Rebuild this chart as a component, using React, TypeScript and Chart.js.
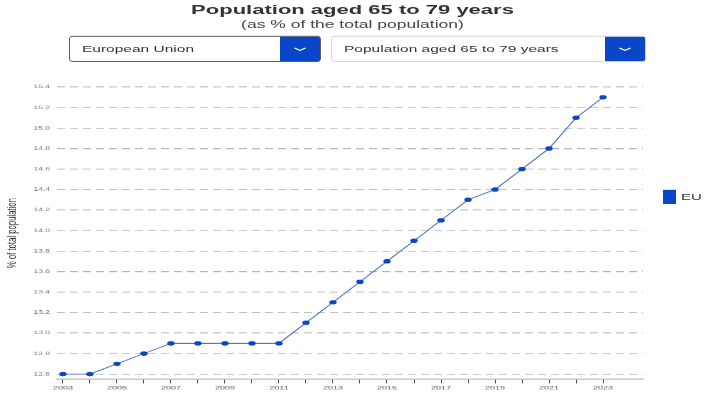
import React, { useEffect, useRef } from "react";
import { Chart, registerables } from "chart.js";

Chart.register(...registerables);

const years = [2003, 2004, 2005, 2006, 2007, 2008, 2009, 2010, 2011, 2012, 2013, 2014, 2015, 2016, 2017, 2018, 2019, 2020, 2021, 2022, 2023];
const euValues = [12.6, 12.6, 12.7, 12.8, 12.9, 12.9, 12.9, 12.9, 12.9, 13.1, 13.3, 13.5, 13.7, 13.9, 14.1, 14.3, 14.4, 14.6, 14.8, 15.1, 15.3];
const yTicks = [12.6, 12.8, 13.0, 13.2, 13.4, 13.6, 13.8, 14.0, 14.2, 14.4, 14.6, 14.8, 15.0, 15.2, 15.4];
const seriesLabel = "EU";
const titleText = "Population aged 65 to 79 years";
const subtitleText = "(as % of the total population)";
const yAxisTitle = "% of total population";
const countryOption = "European Union";
const indicatorOption = "Population aged 65 to 79 years";

const BLUE = "#0a46c8";
const FONT = "'Liberation Sans', Arial, sans-serif";
// the reference picture is squeezed vertically; draw in a taller virtual page and compress it
const SY = 0.6;
const VH = 397 / SY;

function Chevron() {
  return (
    <svg width="14" height="10" viewBox="0 0 14 10">
      <polyline points="1.5,3 7,7 12.5,3" fill="none" stroke="#fff" strokeWidth="1.6" />
    </svg>
  );
}

function Select({ left, width, text, border }: { left: number; width: number; text: string; border: string }) {
  return (
    <div
      style={{
        position: "absolute",
        left,
        top: 60,
        width,
        height: 43,
        boxSizing: "border-box",
        border: `1px solid ${border}`,
        borderRadius: 4,
        background: "#fff",
        overflow: "hidden",
      }}
    >
      <div
        style={{
          position: "absolute",
          left: 12,
          top: 0,
          lineHeight: "40px",
          fontFamily: FONT,
          fontSize: 15.5,
          color: "#333",
        }}
      >
        {text}
      </div>
      <div
        style={{
          position: "absolute",
          right: 0,
          top: 0,
          width: 40,
          height: 41,
          background: BLUE,
          display: "flex",
          alignItems: "center",
          justifyContent: "center",
        }}
      >
        <Chevron />
      </div>
    </div>
  );
}

export default function App() {
  const canvasRef = useRef<HTMLCanvasElement | null>(null);

  useEffect(() => {
    if (!canvasRef.current) return;
    const chart = new Chart(canvasRef.current, {
      type: "line",
      data: {
        datasets: [
          {
            label: seriesLabel,
            data: years.map((y, i) => ({ x: y, y: euValues[i] })),
            borderColor: "#4a78cf",
            borderWidth: 1.4,
            backgroundColor: BLUE,
            pointBackgroundColor: BLUE,
            pointBorderColor: BLUE,
            pointRadius: 3.7,
            pointBorderWidth: 0,
            tension: 0,
          },
        ],
      },
      options: {
        animation: false,
        responsive: false,
        maintainAspectRatio: false,
        layout: { padding: { left: 0, right: 62, top: 28, bottom: 0 } },
        plugins: {
          legend: { display: false },
          tooltip: { enabled: false },
        },
        scales: {
          x: {
            type: "linear",
            min: 2002.78,
            max: 2024.48,
            afterBuildTicks: (axis: any) => {
              axis.ticks = years.map((v) => ({ value: v }));
            },
            afterFit: (axis: any) => {
              axis.height = 30;
            },
            ticks: {
              autoSkip: false,
              maxRotation: 0,
              padding: 2,
              color: "#555",
              font: { family: FONT, size: 9 },
              callback: (v: any) => (Number(v) % 2 === 1 ? String(v) : ""),
            },
            grid: {
              drawOnChartArea: false,
              drawTicks: true,
              tickLength: 7,
              color: "#444",
              lineWidth: 1,
            },
            border: { display: true, color: "#999", width: 1.6 },
          },
          y: {
            type: "linear",
            min: 12.55,
            max: 15.4,
            afterBuildTicks: (axis: any) => {
              axis.ticks = yTicks.map((v) => ({ value: v }));
            },
            afterFit: (axis: any) => {
              axis.width = 57;
            },
            ticks: {
              padding: 7,
              color: "#777",
              font: { family: FONT, size: 8.5 },
              callback: (v: any) => Number(v).toFixed(1),
            },
            grid: {
              drawTicks: false,
              color: "#b5b5b5",
              lineWidth: 1.6,
            },
            border: { display: false, dash: [8, 5] },
            title: {
              display: true,
              text: yAxisTitle,
              color: "#333",
              padding: { top: 5, bottom: 0 },
              font: { family: FONT, size: 12.9 },
            },
          },
        },
      },
    });
    return () => chart.destroy();
  }, []);

  return (
    <div style={{ position: "fixed", left: 0, top: 0, width: 705, height: 397, background: "#fff", overflow: "hidden" }}>
      <div
        style={{
          position: "absolute",
          left: 0,
          top: 0,
          width: 705,
          height: VH,
          transform: `scale(1, ${SY})`,
          transformOrigin: "0 0",
        }}
      >
        <div
          style={{
            position: "absolute",
            left: 0,
            width: 705,
            top: 4,
            textAlign: "center",
            fontFamily: FONT,
            fontWeight: "bold",
            fontSize: 22,
            lineHeight: "26px",
            color: "#333",
          }}
        >
          {titleText}
        </div>
        <div
          style={{
            position: "absolute",
            left: 0,
            width: 705,
            top: 30,
            textAlign: "center",
            fontFamily: FONT,
            fontSize: 17.5,
            lineHeight: "20px",
            color: "#444",
          }}
        >
          {subtitleText}
        </div>
        <Select left={69} width={252} text={countryOption} border="#333" />
        <Select left={331} width={315} text={indicatorOption} border="#ccc" />
        <canvas
          ref={canvasRef}
          width={705}
          height={Math.round(VH - 117)}
          style={{ position: "absolute", left: 0, top: 117, width: 705, height: Math.round(VH - 117) }}
        />
        <div style={{ position: "absolute", left: 663, top: 316, display: "flex", alignItems: "center" }}>
          <div style={{ width: 13, height: 24, background: BLUE }} />
          <span
            style={{
              marginLeft: 5,
              fontFamily: FONT,
              fontSize: 15,
              color: "#333",
            }}
          >
            {seriesLabel}
          </span>
        </div>
      </div>
    </div>
  );
}
